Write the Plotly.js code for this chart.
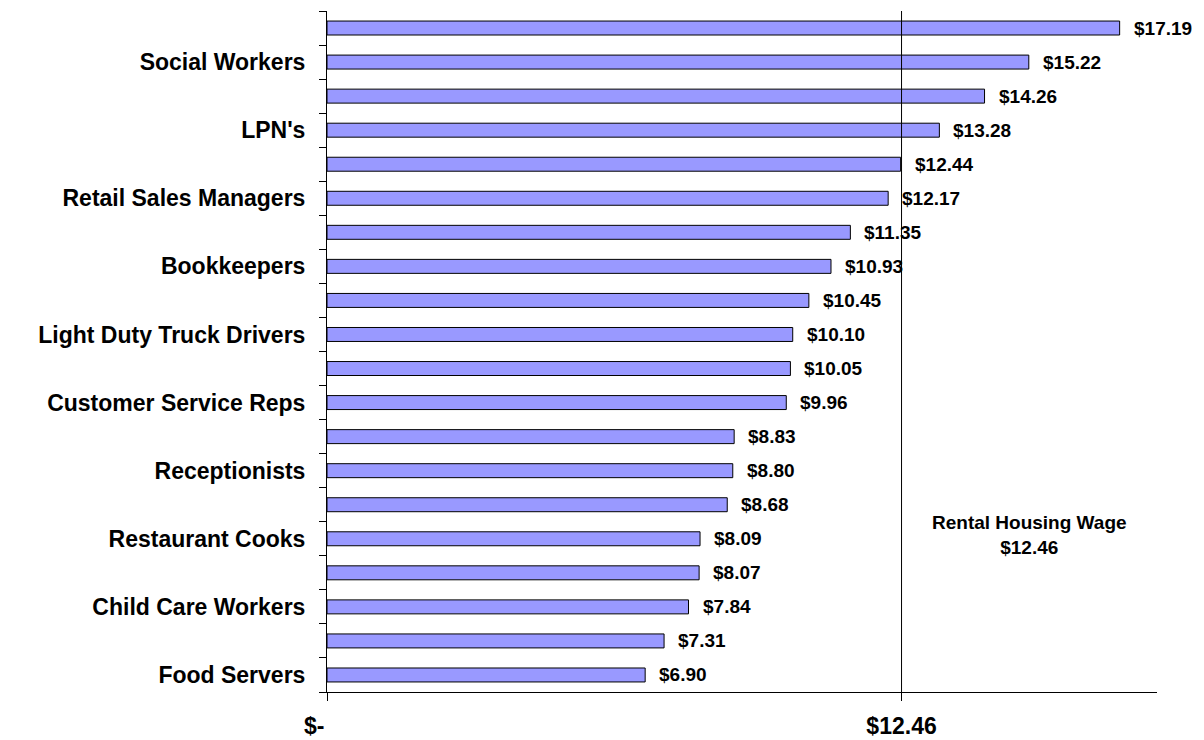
<!DOCTYPE html>
<html>
<head>
<meta charset="utf-8">
<script src="https://cdn.plot.ly/plotly-3.0.1.min.js"></script>
<style>html,body{margin:0;padding:0;background:#fff;}#chart{width:1204px;height:740px;}</style>
</head>
<body>
<div id="chart"></div>
<script>
// Hourly wages, top to bottom as shown
const occupationLabels = ["", "Social Workers", "", "LPN's", "", "Retail Sales Managers", "", "Bookkeepers", "", "Light Duty Truck Drivers", "", "Customer Service Reps", "", "Receptionists", "", "Restaurant Cooks", "", "Child Care Workers", "", "Food Servers"];
const wages = [17.19, 15.22, 14.26, 13.28, 12.44, 12.17, 11.35, 10.93, 10.45, 10.10, 10.05, 9.96, 8.83, 8.80, 8.68, 8.09, 8.07, 7.84, 7.31, 6.90];
const housingWage = 12.46;
const xTickValues = [0, housingWage];
const xTickLabels = ["$-\u00a0\u00a0\u00a0\u00a0", "$12.46"];
const refLabel = "Rental Housing Wage<br>$12.46";

const positions = occupationLabels.map((_, i) => i);
const boundaries = [-0.5].concat(positions.map(p => p + 0.5));
const yRange = [occupationLabels.length - 0.5, -0.5];

const FONT = "Liberation Sans, Arial, Helvetica, sans-serif";

const traces = [{
  type: "bar",
  orientation: "h",
  x: wages,
  y: positions,
  width: 0.41,
  marker: {color: "#9999FF", line: {color: "#000000", width: 1}},
  hoverinfo: "x",
  showlegend: false
}, {
  type: "scatter",
  mode: "markers",
  x: [0],
  y: [0],
  yaxis: "y2",
  marker: {opacity: 0},
  hoverinfo: "skip",
  showlegend: false
}];

const annotations = wages.map((v, i) => ({
  x: v, y: positions[i], xref: "x", yref: "y",
  text: "$" + v.toFixed(2),
  showarrow: false, xanchor: "left", yanchor: "middle", xshift: 12,
  font: {family: FONT, size: 19, color: "#000"}
}));
annotations.push({
  x: (housingWage + 18) / 2, y: 14.9, xref: "x", yref: "y",
  text: refLabel, showarrow: false, xanchor: "center", yanchor: "middle",
  font: {family: FONT, size: 19, color: "#000"}
});

const layout = {
  width: 1204, height: 740,
  margin: {l: 327, r: 47, t: 11, b: 48, pad: 0},
  paper_bgcolor: "#ffffff", plot_bgcolor: "#ffffff",
  font: {family: FONT, color: "#000", weight: "bold"},
  xaxis: {
    range: [0, 18], fixedrange: true,
    tickmode: "array", tickvals: xTickValues, ticktext: xTickLabels,
    ticks: "outside", ticklen: 8, tickwidth: 1, tickcolor: "#000",
    ticklabelstandoff: 5,
    tickfont: {family: FONT, size: 23, color: "#000", weight: "bold"},
    showline: true, linecolor: "#000", linewidth: 1,
    showgrid: false, zeroline: false
  },
  yaxis: {
    range: yRange, fixedrange: true,
    tickmode: "array", tickvals: positions, ticktext: occupationLabels,
    ticks: "", ticklabelstandoff: 16,
    tickfont: {family: FONT, size: 23, color: "#000", weight: "bold"},
    showline: true, linecolor: "#000", linewidth: 1,
    showgrid: false, zeroline: false
  },
  yaxis2: {
    overlaying: "y", side: "left", range: yRange, fixedrange: true,
    tickmode: "array", tickvals: boundaries, showticklabels: false,
    ticks: "outside", ticklen: 7, tickwidth: 1, tickcolor: "#000",
    showline: false, showgrid: false, zeroline: false
  },
  shapes: [{
    type: "line", xref: "x", yref: "paper",
    x0: housingWage, x1: housingWage, y0: 0, y1: 1,
    line: {color: "#000", width: 1}
  }],
  annotations: annotations
};

Plotly.newPlot("chart", traces, layout, {displayModeBar: false, staticPlot: true});
</script>
</body>
</html>
